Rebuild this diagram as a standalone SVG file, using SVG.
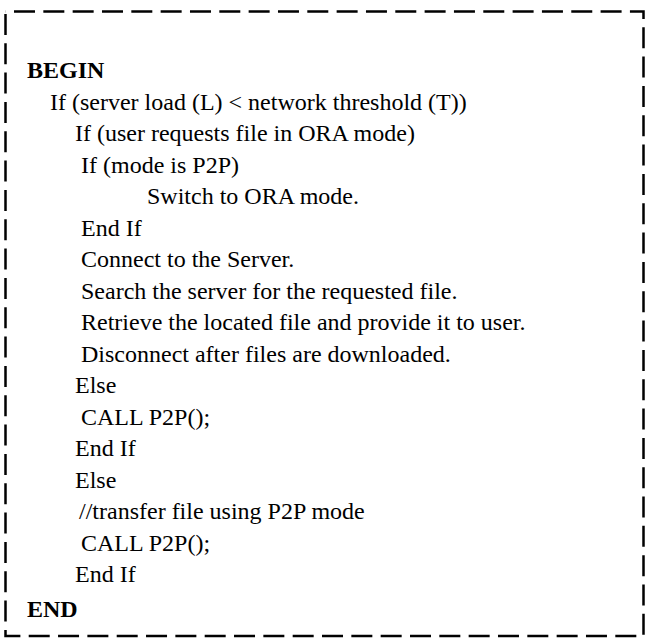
<svg xmlns="http://www.w3.org/2000/svg" width="646" height="639" viewBox="0 0 646 639">
  <style>
    .frame { fill: none; stroke: #000; stroke-width: 2.5; stroke-dasharray: 21 8.33; stroke-dashoffset: 20.83; }
    .code { font-family: "Liberation Serif", "Times New Roman", serif; font-size: 24px; fill: #000; }
    .kw { font-weight: bold; }
  </style>
  <rect width="646" height="639" fill="#fff"/>
  <!-- dashed frame around the algorithm listing, traced clockwise from the top-left corner -->
  <path id="frame" class="frame" d="M 5.5 11.5 H 643.5 V 636 H 5.5 Z"/>
  <!-- algorithm listing, one line per text element -->
  <g id="listing" class="code">
    <text class="kw" x="27" y="78">BEGIN</text>
    <text x="50" y="109.5">If (server load (L) &lt; network threshold (T))</text>
    <text x="75" y="141">If (user requests file in ORA mode)</text>
    <text x="81" y="172.5">If (mode is P2P)</text>
    <text x="147" y="204">Switch to ORA mode.</text>
    <text x="81" y="235.5">End If</text>
    <text x="81" y="267">Connect to the Server.</text>
    <text x="81" y="298.5">Search the server for the requested file.</text>
    <text x="81" y="330">Retrieve the located file and provide it to user.</text>
    <text x="81" y="361.5">Disconnect after files are downloaded.</text>
    <text x="75" y="393">Else</text>
    <text x="81" y="424.5">CALL P2P();</text>
    <text x="75" y="456">End If</text>
    <text x="75" y="487.5">Else</text>
    <text x="79" y="519">//transfer file using P2P mode</text>
    <text x="81" y="550.5">CALL P2P();</text>
    <text x="75" y="582">End If</text>
    <text class="kw" x="27" y="617">END</text>
  </g>
</svg>
